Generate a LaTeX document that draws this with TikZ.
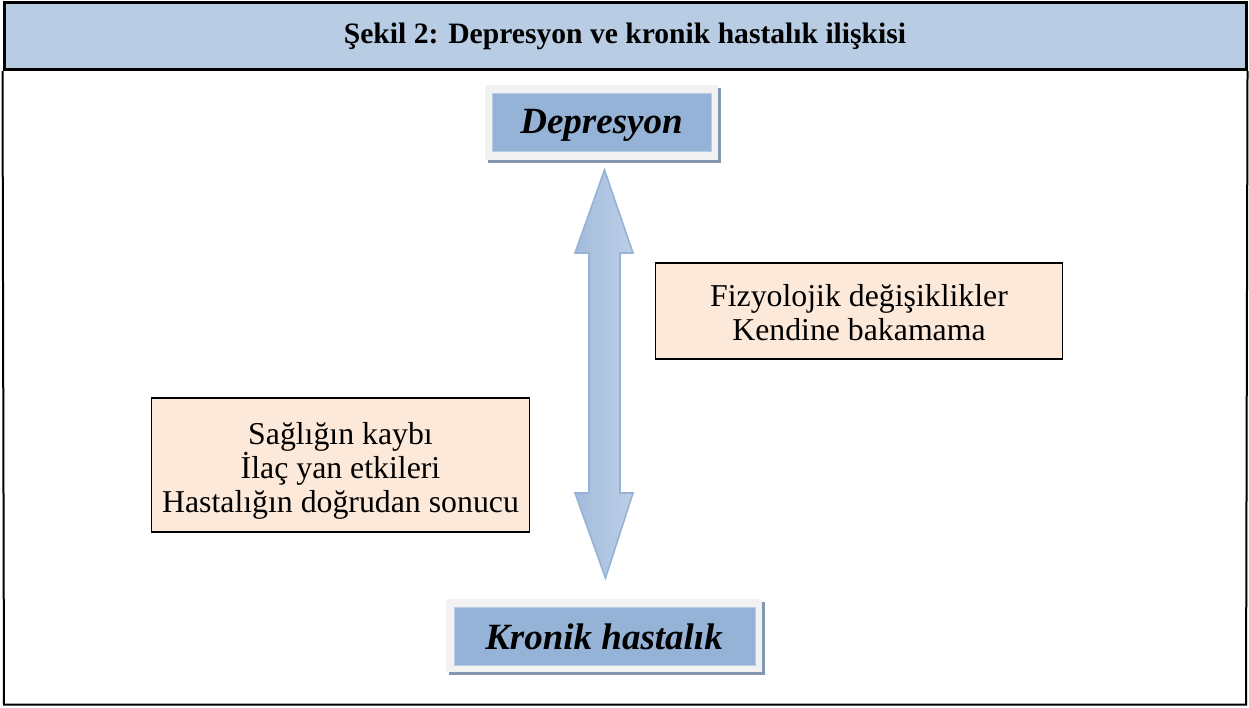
\documentclass[tikz,border=0pt]{standalone}
\usepackage{fontspec}
\setmainfont{Liberation Serif}
\definecolor{headc}{HTML}{B8CCE4}
\definecolor{bluec}{HTML}{95B3D7}
\definecolor{greyc}{HTML}{F2F2F2}
\definecolor{peachc}{HTML}{FDE9D9}
\definecolor{shadc}{HTML}{8496B0}
\definecolor{arrL}{HTML}{A3BBDC}
\definecolor{arrM}{HTML}{DFE8F4}
\definecolor{arrR}{HTML}{BCCFE7}
\definecolor{arrD}{HTML}{95B3D7}
\begin{document}
\begin{tikzpicture}[x=1pt,y=-1pt,
  header/.style={rectangle, draw=black, line width=3pt, fill=headc, inner sep=0pt,
    font=\fontsize{29.6}{34}\selectfont\bfseries},
  framebox/.style={draw=black, line width=2pt},
  greybox/.style={rectangle, fill=greyc, inner sep=0pt},
  shadowbox/.style={rectangle, fill=shadc, inner sep=0pt},
  bluebox/.style={rectangle, fill=bluec, draw=headc, line width=0.6pt, inner sep=0pt},
  keytext/.style={inner sep=0pt, font=\fontsize{37}{40}\selectfont\bfseries\itshape},
  peachbox/.style={rectangle, draw=black, line width=1.5pt, fill=peachc, inner sep=0pt},
  bodytext/.style={inner sep=0pt, align=center, font=\fontsize{31.8}{34}\selectfont},
  bigarrow/.style={draw=arrD, line width=1.6pt, left color=arrL, middle color=arrM, right color=arrR, line join=miter},
  arrowshadow/.style={fill=shadc, opacity=0.85}
]
\useasboundingbox (0,0) rectangle (1249,707);
\fill[white] (0,0) rectangle (1249,707);

% outer frame
\coordinate (fbl) at (4,704.5);
\coordinate (fbr) at (1246,704.5);
\node[header, minimum width=1242, minimum height=67] (head) at (625,36)
  {Şekil 2: Depresyon ve kronik hastalık ilişkisi};
\draw[framebox] (head.south west) -- (fbl) -- (fbr) -- (head.south east);

% Depresyon box
\node[shadowbox, minimum width=233, minimum height=75] (depshadow) at (604.5,125.5) {};
\node[greybox, minimum width=233, minimum height=75] (depgrey) at (601.5,122.5) {};
\node[bluebox, minimum width=219, minimum height=58] (dep) at (601.5,122) {};
\node[keytext] (deptext) at (601.5,125) {Depresyon};

% Kronik hastalik box
\node[shadowbox, minimum width=316, minimum height=73] (kroshadow) at (607,638.5) {};
\node[greybox, minimum width=316, minimum height=73] (krogrey) at (604,635.5) {};
\node[bluebox, minimum width=301, minimum height=58] (kro) at (604.5,636) {};
\node[keytext] (krotext) at (604,637) {Kronik hastalık};

% double arrow
\coordinate (atop) at (604.5,170);
\coordinate (abot) at (605.5,578);
\path[arrowshadow, shift={(3,3)}]
  (atop) -- ++(28.5,83) -- ++(-13,0) -- ++(0,240) -- ++(13,0)
  -- (abot) -- ++(-30.5,-85) -- ++(14,0) -- ++(0,-240) -- ++(-14,0) -- cycle;
\path[bigarrow]
  (atop) -- ++(28.5,83) -- ++(-13,0) -- ++(0,240) -- ++(13,0)
  -- (abot) -- ++(-30.5,-85) -- ++(14,0) -- ++(0,-240) -- ++(-14,0) -- cycle;

% text boxes
\node[peachbox, minimum width=407, minimum height=96] (fiz) at (859,311) {};
\node[bodytext] (fiztext) at (859,313)
  {Fizyolojik değişiklikler\\Kendine bakamama};
\node[peachbox, minimum width=378, minimum height=134] (sag) at (340.5,465) {};
\node[bodytext] (sagtext) at (340.5,471)
  {Sağlığın kaybı\\İlaç yan etkileri\\Hastalığın doğrudan sonucu};
\end{tikzpicture}
\end{document}
